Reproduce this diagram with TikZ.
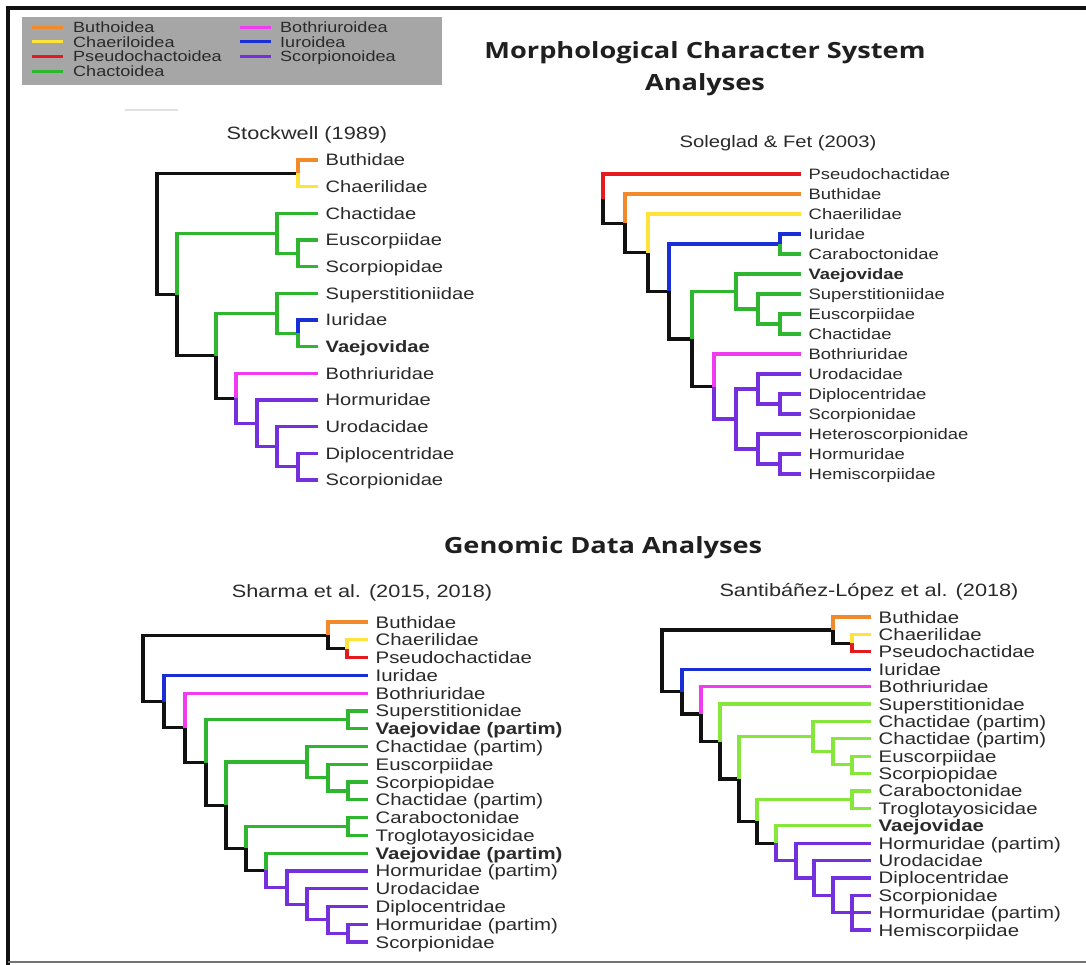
\documentclass[tikz,border=0pt]{standalone}
\usepackage{fontspec}
\setmainfont{Liberation Sans}[FakeStretch=1.22]
\newfontfamily\ttlfont{Open Sans}[FakeStretch=1.22]
\definecolor{cOr}{HTML}{F28A2A}
\definecolor{cYe}{HTML}{FFE23A}
\definecolor{cRe}{HTML}{E51A1E}
\definecolor{cGr}{HTML}{2EB62E}
\definecolor{cLg}{HTML}{86E63C}
\definecolor{cBl}{HTML}{1A2ED6}
\definecolor{cMa}{HTML}{F03CF0}
\definecolor{cPu}{HTML}{7430DC}
\definecolor{cBk}{HTML}{111111}
\definecolor{txt}{HTML}{2A2A2A}
\definecolor{lgd}{HTML}{A6A6A6}
\newcommand\mkleaf[5]{\coordinate (#2) at (#3,#4); \node[#1] (#2l) at (#2) {#5};}
\newcommand\brn[3]{\draw[br,#1] (#2) |- (#3);}
\tikzset{
  br/.style={line width=3.2pt, line join=miter},
  lgl/.style={line width=3pt},
  lfA/.style={anchor=base west, inner sep=0pt, xshift=7.5pt, yshift=-5.9pt, text=txt, font=\fontsize{16.5}{18}\selectfont},
  lfB/.style={anchor=base west, inner sep=0pt, xshift=7.5pt, yshift=-5.4pt, text=txt, font=\fontsize{15.1}{17}\selectfont},
  lfC/.style={anchor=base west, inner sep=0pt, xshift=7.5pt, yshift=-6pt, text=txt, font=\fontsize{16.7}{18}\selectfont},
  lgt/.style={anchor=base west, inner sep=0pt, yshift=-5.2pt, text=txt, font=\fontsize{14.8}{16}\selectfont},
  tt/.style={anchor=base, inner sep=0pt, text=txt, font=\fontsize{17.8}{20}\selectfont},
  ttl/.style={anchor=base, inner sep=0pt, text=black!88, font=\ttlfont\bfseries\fontsize{22.3}{25}\selectfont},
}
\begin{document}
\begin{tikzpicture}[x=1pt,y=-1pt]
\useasboundingbox (0,0) rectangle (1086,965);
\fill[white] (0,0) rectangle (1086,965);
% frame
\draw[line width=4.5pt, cBk] (8,965) -- (8,8) -- (1086,8);
\draw[line width=1.5pt, black!55] (8,962) -- (1086,962);
% legend
\node[fill=lgd, inner sep=0pt, minimum width=420pt, minimum height=68pt, anchor=north west] (legend) at (22,17) {};
\coordinate (lA1) at (32,27.3); \coordinate (lA2) at (63,27.3);
\coordinate (lB1) at (32,42); \coordinate (lB2) at (63,42);
\coordinate (lC1) at (32,56.7); \coordinate (lC2) at (63,56.7);
\coordinate (lD1) at (32,71.3); \coordinate (lD2) at (63,71.3);
\coordinate (lE1) at (240,27.3); \coordinate (lE2) at (271,27.3);
\coordinate (lF1) at (240,42); \coordinate (lF2) at (271,42);
\coordinate (lG1) at (240,56.7); \coordinate (lG2) at (271,56.7);
\draw[lgl,cOr] (lA1) -- (lA2); \node[lgt] (tA) at (73,27.3) {Buthoidea};
\draw[lgl,cYe] (lB1) -- (lB2); \node[lgt] (tB) at (73,42) {Chaeriloidea};
\draw[lgl,cRe] (lC1) -- (lC2); \node[lgt] (tC) at (73,56.7) {Pseudochactoidea};
\draw[lgl,cGr] (lD1) -- (lD2); \node[lgt] (tD) at (73,71.3) {Chactoidea};
\draw[lgl,cMa] (lE1) -- (lE2); \node[lgt] (tE) at (280,27.3) {Bothriuroidea};
\draw[lgl,cBl] (lF1) -- (lF2); \node[lgt] (tF) at (280,42) {Iuroidea};
\draw[lgl,cPu] (lG1) -- (lG2); \node[lgt] (tG) at (280,56.7) {Scorpionoidea};
\coordinate (fl1) at (125,110); \coordinate (fl2) at (178,110);
\draw[line width=1.5pt, black!12] (fl1) -- (fl2);
% titles
\node[ttl] (tm1) at (705,59) {Morphological Character System};
\node[ttl] (tm2) at (705,91) {Analyses};
\node[ttl] (tg) at (603,553) {Genomic Data Analyses};
\node[tt] (ts1) at (307,140) {Stockwell (1989)};
\node[tt, font=\fontsize{16.6}{19}\selectfont] (ts2) at (778,148) {Soleglad \& Fet (2003)};
\node[tt] (ts3) at (362,597) {Sharma et al. (2015, 2018)};
\node[tt] (ts4) at (869,596) {Santibáñez-López et al. (2018)};

% ---------- Stockwell (1989)
\coordinate (sR) at (157,234);
\coordinate (sa) at (298,173.3);
\coordinate (sk) at (177,294.6);
\coordinate (sc) at (277,233.3);
\coordinate (sb) at (298,253.3);
\coordinate (sj) at (216,355.8);
\coordinate (se) at (277,313.3);
\coordinate (sd) at (298,333.3);
\coordinate (si) at (236,398.3);
\coordinate (sh) at (257,423.3);
\coordinate (sg) at (277,446.7);
\coordinate (sf) at (298,466.7);
\mkleaf{lfA}{s1}{318}{160}{Buthidae}
\mkleaf{lfA}{s2}{318}{186.7}{Chaerilidae}
\mkleaf{lfA}{s3}{318}{213.3}{Chactidae}
\mkleaf{lfA}{s4}{318}{240}{Euscorpiidae}
\mkleaf{lfA}{s5}{318}{266.7}{Scorpiopidae}
\mkleaf{lfA}{s6}{318}{293.3}{Superstitioniidae}
\mkleaf{lfA}{s7}{318}{320}{Iuridae}
\mkleaf{lfA}{s8}{318}{346.7}{\textbf{Vaejovidae}}
\mkleaf{lfA}{s9}{318}{373.3}{Bothriuridae}
\mkleaf{lfA}{s10}{318}{400}{Hormuridae}
\mkleaf{lfA}{s11}{318}{426.7}{Urodacidae}
\mkleaf{lfA}{s12}{318}{453.3}{Diplocentridae}
\mkleaf{lfA}{s13}{318}{480}{Scorpionidae}
\brn{cBk}{sR}{sa} \brn{cOr}{sa}{s1} \brn{cYe}{sa}{s2}
\brn{cBk}{sR}{sk} \brn{cGr}{sk}{sc} \brn{cGr}{sc}{s3} \brn{cGr}{sc}{sb} \brn{cGr}{sb}{s4} \brn{cGr}{sb}{s5}
\brn{cBk}{sk}{sj} \brn{cGr}{sj}{se} \brn{cGr}{se}{s6} \brn{cGr}{se}{sd} \brn{cBl}{sd}{s7} \brn{cGr}{sd}{s8}
\brn{cBk}{sj}{si} \brn{cMa}{si}{s9} \brn{cPu}{si}{sh} \brn{cPu}{sh}{s10} \brn{cPu}{sh}{sg}
\brn{cPu}{sg}{s11} \brn{cPu}{sg}{sf} \brn{cPu}{sf}{s12} \brn{cPu}{sf}{s13}

% ---------- Soleglad & Fet (2003)
\coordinate (gR) at (603,198.7);
\coordinate (gO) at (625,223.4);
\coordinate (gN) at (648,252.75);
\coordinate (gM) at (669,291.5);
\coordinate (gA) at (780,244);
\coordinate (gK) at (692,339);
\coordinate (gD) at (736,291.5);
\coordinate (gC) at (758,309);
\coordinate (gB) at (780,324);
\coordinate (gJ) at (714,386.5);
\coordinate (gI) at (736,419);
\coordinate (gF) at (758,389);
\coordinate (gE) at (780,404);
\coordinate (gH) at (758,449);
\coordinate (gG) at (780,464);
\mkleaf{lfB}{g1}{801}{174}{Pseudochactidae}
\mkleaf{lfB}{g2}{801}{194}{Buthidae}
\mkleaf{lfB}{g3}{801}{214}{Chaerilidae}
\mkleaf{lfB}{g4}{801}{234}{Iuridae}
\mkleaf{lfB}{g5}{801}{254}{Caraboctonidae}
\mkleaf{lfB}{g6}{801}{274}{\textbf{Vaejovidae}}
\mkleaf{lfB}{g7}{801}{294}{Superstitioniidae}
\mkleaf{lfB}{g8}{801}{314}{Euscorpiidae}
\mkleaf{lfB}{g9}{801}{334}{Chactidae}
\mkleaf{lfB}{g10}{801}{354}{Bothriuridae}
\mkleaf{lfB}{g11}{801}{374}{Urodacidae}
\mkleaf{lfB}{g12}{801}{394}{Diplocentridae}
\mkleaf{lfB}{g13}{801}{414}{Scorpionidae}
\mkleaf{lfB}{g14}{801}{434}{Heteroscorpionidae}
\mkleaf{lfB}{g15}{801}{454}{Hormuridae}
\mkleaf{lfB}{g16}{801}{474}{Hemiscorpiidae}
\brn{cRe}{gR}{g1} \brn{cBk}{gR}{gO} \brn{cOr}{gO}{g2} \brn{cBk}{gO}{gN}
\brn{cYe}{gN}{g3} \brn{cBk}{gN}{gM} \brn{cBl}{gM}{gA} \brn{cBl}{gA}{g4} \brn{cGr}{gA}{g5}
\brn{cBk}{gM}{gK} \brn{cGr}{gK}{gD} \brn{cGr}{gD}{g6} \brn{cGr}{gD}{gC} \brn{cGr}{gC}{g7}
\brn{cGr}{gC}{gB} \brn{cGr}{gB}{g8} \brn{cGr}{gB}{g9}
\brn{cBk}{gK}{gJ} \brn{cMa}{gJ}{g10} \brn{cPu}{gJ}{gI} \brn{cPu}{gI}{gF} \brn{cPu}{gF}{g11}
\brn{cPu}{gF}{gE} \brn{cPu}{gE}{g12} \brn{cPu}{gE}{g13} \brn{cPu}{gI}{gH} \brn{cPu}{gH}{g14}
\brn{cPu}{gH}{gG} \brn{cPu}{gG}{g15} \brn{cPu}{gG}{g16}

% ---------- Sharma et al. (2015, 2018)
\coordinate (hR) at (143,668.5);
\coordinate (hP2) at (328,635.4);
\coordinate (hP1) at (347,648.7);
\coordinate (hQ) at (164,701.6);
\coordinate (hRr) at (185,727.8);
\coordinate (hS) at (206,762.5);
\coordinate (hST) at (348,719.8);
\coordinate (hT) at (226,805.2);
\coordinate (hU3) at (307,762);
\coordinate (hU2) at (328,777.6);
\coordinate (hU1) at (348,790.9);
\coordinate (hV) at (246,848.4);
\coordinate (hCT) at (348,826.5);
\coordinate (hW) at (266,870.3);
\coordinate (hX1) at (287,887.6);
\coordinate (hX2) at (307,904.2);
\coordinate (hX3) at (328,919.8);
\coordinate (hX4) at (348,933.1);
\mkleaf{lfC}{h1}{368}{622}{Buthidae}
\mkleaf{lfC}{h2}{368}{639.8}{Chaerilidae}
\mkleaf{lfC}{h3}{368}{657.6}{Pseudochactidae}
\mkleaf{lfC}{h4}{368}{675.3}{Iuridae}
\mkleaf{lfC}{h5}{368}{693.1}{Bothriuridae}
\mkleaf{lfC}{h6}{368}{710.9}{Superstitionidae}
\mkleaf{lfC}{h7}{368}{728.7}{\textbf{Vaejovidae (partim)}}
\mkleaf{lfC}{h8}{368}{746.4}{Chactidae (partim)}
\mkleaf{lfC}{h9}{368}{764.2}{Euscorpiidae}
\mkleaf{lfC}{h10}{368}{782}{Scorpiopidae}
\mkleaf{lfC}{h11}{368}{799.8}{Chactidae (partim)}
\mkleaf{lfC}{h12}{368}{817.6}{Caraboctonidae}
\mkleaf{lfC}{h13}{368}{835.3}{Troglotayosicidae}
\mkleaf{lfC}{h14}{368}{853.1}{\textbf{Vaejovidae (partim)}}
\mkleaf{lfC}{h15}{368}{870.9}{Hormuridae (partim)}
\mkleaf{lfC}{h16}{368}{888.7}{Urodacidae}
\mkleaf{lfC}{h17}{368}{906.4}{Diplocentridae}
\mkleaf{lfC}{h18}{368}{924.2}{Hormuridae (partim)}
\mkleaf{lfC}{h19}{368}{942}{Scorpionidae}
\brn{cBk}{hR}{hP2} \brn{cOr}{hP2}{h1} \brn{cBk}{hP2}{hP1} \brn{cYe}{hP1}{h2} \brn{cRe}{hP1}{h3}
\brn{cBk}{hR}{hQ} \brn{cBl}{hQ}{h4} \brn{cBk}{hQ}{hRr} \brn{cMa}{hRr}{h5} \brn{cBk}{hRr}{hS}
\brn{cGr}{hS}{hST} \brn{cGr}{hST}{h6} \brn{cGr}{hST}{h7} \brn{cBk}{hS}{hT}
\brn{cGr}{hT}{hU3} \brn{cGr}{hU3}{h8} \brn{cGr}{hU3}{hU2} \brn{cGr}{hU2}{h9} \brn{cGr}{hU2}{hU1}
\brn{cGr}{hU1}{h10} \brn{cGr}{hU1}{h11} \brn{cBk}{hT}{hV} \brn{cGr}{hV}{hCT} \brn{cGr}{hCT}{h12}
\brn{cGr}{hCT}{h13} \brn{cBk}{hV}{hW} \brn{cGr}{hW}{h14} \brn{cPu}{hW}{hX1} \brn{cPu}{hX1}{h15}
\brn{cPu}{hX1}{hX2} \brn{cPu}{hX2}{h16} \brn{cPu}{hX2}{hX3} \brn{cPu}{hX3}{h17} \brn{cPu}{hX3}{hX4}
\brn{cPu}{hX4}{h18} \brn{cPu}{hX4}{h19}

% ---------- Santibanez-Lopez et al. (2018)
\coordinate (kR) at (662,660.8);
\coordinate (kP2) at (833,630.05);
\coordinate (kP1) at (852,643.1);
\coordinate (kQ) at (682,691.6);
\coordinate (kRr) at (701,714);
\coordinate (kS) at (720,741.5);
\coordinate (kT) at (739,778.95);
\coordinate (kU3) at (813,736.5);
\coordinate (kU2) at (833,751.75);
\coordinate (kU1) at (852,764.8);
\coordinate (kV) at (757,821.4);
\coordinate (kCT) at (852,799.6);
\coordinate (kW) at (776,843.1);
\coordinate (kX1) at (796,860.5);
\coordinate (kX2) at (814,877.9);
\coordinate (kX3) at (833,895.3);
\coordinate (kX4) at (852,912.7);
\mkleaf{lfC}{k1}{871}{617}{Buthidae}
\mkleaf{lfC}{k2}{871}{634.4}{Chaerilidae}
\mkleaf{lfC}{k3}{871}{651.8}{Pseudochactidae}
\mkleaf{lfC}{k4}{871}{669.2}{Iuridae}
\mkleaf{lfC}{k5}{871}{686.6}{Bothriuridae}
\mkleaf{lfC}{k6}{871}{704}{Superstitionidae}
\mkleaf{lfC}{k7}{871}{721.3}{Chactidae (partim)}
\mkleaf{lfC}{k8}{871}{738.7}{Chactidae (partim)}
\mkleaf{lfC}{k9}{871}{756.1}{Euscorpiidae}
\mkleaf{lfC}{k10}{871}{773.5}{Scorpiopidae}
\mkleaf{lfC}{k11}{871}{790.9}{Caraboctonidae}
\mkleaf{lfC}{k12}{871}{808.3}{Troglotayosicidae}
\mkleaf{lfC}{k13}{871}{825.7}{\textbf{Vaejovidae}}
\mkleaf{lfC}{k14}{871}{843.1}{Hormuridae (partim)}
\mkleaf{lfC}{k15}{871}{860.5}{Urodacidae}
\mkleaf{lfC}{k16}{871}{877.9}{Diplocentridae}
\mkleaf{lfC}{k17}{871}{895.3}{Scorpionidae}
\mkleaf{lfC}{k18}{871}{912.7}{Hormuridae (partim)}
\mkleaf{lfC}{k19}{871}{930}{Hemiscorpiidae}
\brn{cBk}{kR}{kP2} \brn{cOr}{kP2}{k1} \brn{cBk}{kP2}{kP1} \brn{cYe}{kP1}{k2} \brn{cRe}{kP1}{k3}
\brn{cBk}{kR}{kQ} \brn{cBl}{kQ}{k4} \brn{cBk}{kQ}{kRr} \brn{cMa}{kRr}{k5} \brn{cBk}{kRr}{kS}
\brn{cLg}{kS}{k6} \brn{cBk}{kS}{kT} \brn{cLg}{kT}{kU3} \brn{cLg}{kU3}{k7} \brn{cLg}{kU3}{kU2}
\brn{cLg}{kU2}{k8} \brn{cLg}{kU2}{kU1} \brn{cLg}{kU1}{k9} \brn{cLg}{kU1}{k10}
\brn{cBk}{kT}{kV} \brn{cLg}{kV}{kCT} \brn{cLg}{kCT}{k11} \brn{cLg}{kCT}{k12}
\brn{cBk}{kV}{kW} \brn{cLg}{kW}{k13} \brn{cPu}{kW}{kX1} \brn{cPu}{kX1}{k14} \brn{cPu}{kX1}{kX2}
\brn{cPu}{kX2}{k15} \brn{cPu}{kX2}{kX3} \brn{cPu}{kX3}{k16} \brn{cPu}{kX3}{kX4}
\brn{cPu}{kX4}{k17} \brn{cPu}{kX4}{k18} \brn{cPu}{kX4}{k19}
\end{tikzpicture}
\end{document}
